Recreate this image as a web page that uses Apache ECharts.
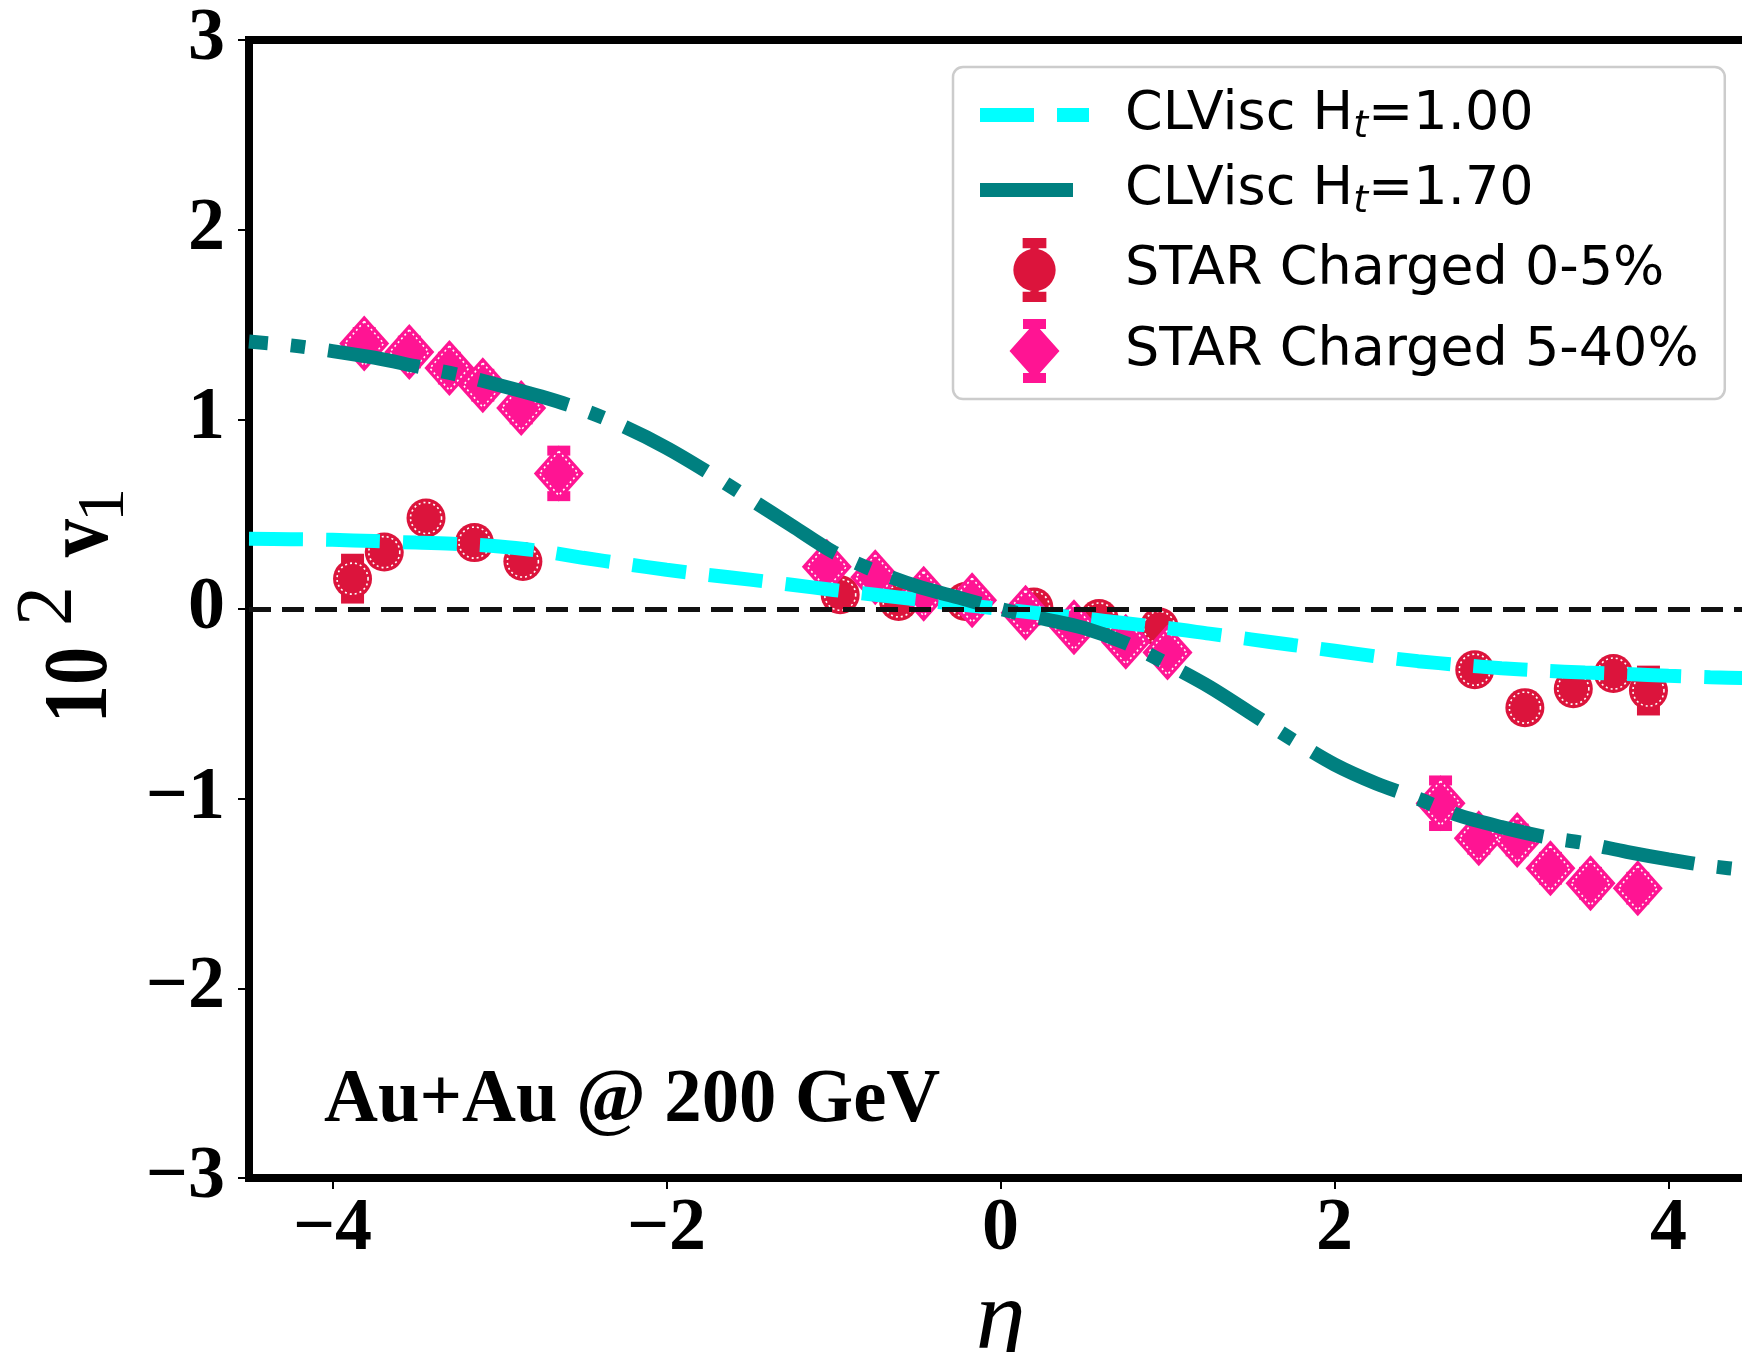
<!DOCTYPE html>
<html>
<head>
<meta charset="utf-8">
<title>v1 vs eta, Au+Au 200 GeV</title>
<script src="https://cdn.jsdelivr.net/npm/echarts@6/dist/echarts.min.js"></script>
<style>
  html, body { margin: 0; padding: 0; background: #fff; }
  #chart { width: 1742px; height: 1352px; }
</style>
</head>
<body>
<div id="chart"></div>
<script>
// Model curves: CLVisc hydro, directed flow 10^2 v1 versus pseudorapidity
const etaModel = [-4.5, -4.25, -4, -3.75, -3.5, -3.25, -3, -2.75, -2.5, -2.25, -2, -1.75, -1.5, -1.25, -1, -0.75, -0.5, -0.25,
  0, 0.25, 0.5, 0.75, 1, 1.25, 1.5, 1.75, 2, 2.25, 2.5, 2.75, 3, 3.25, 3.5, 3.75, 4, 4.25, 4.5];
const v1Ht100 = [0.37, 0.368, 0.365, 0.358, 0.35, 0.343, 0.33, 0.305, 0.27, 0.238, 0.207, 0.18, 0.155, 0.128, 0.10, 0.075, 0.05, 0.025,
  0, -0.025, -0.05, -0.075, -0.10, -0.13, -0.16, -0.19, -0.22, -0.25, -0.275, -0.295, -0.312, -0.325, -0.335, -0.343, -0.352, -0.36, -0.365];
const v1Ht170 = [1.41, 1.39, 1.36, 1.325, 1.28, 1.235, 1.18, 1.12, 1.05, 0.96, 0.85, 0.72, 0.58, 0.44, 0.30, 0.20, 0.12, 0.06,
  0, -0.05, -0.10, -0.18, -0.29, -0.41, -0.55, -0.69, -0.82, -0.92, -1.00, -1.09, -1.15, -1.20, -1.235, -1.28, -1.32, -1.355, -1.38];

// STAR charged hadrons, 0-5% centrality
const star05Eta = [-3.88, -3.69, -3.44, -3.15, -2.86, -0.96, -0.61, -0.21, 0.20, 0.59, 0.95, 2.84, 3.14, 3.43, 3.67, 3.88];
const star05V   = [0.16, 0.30, 0.48, 0.35, 0.25, 0.075, 0.04, 0.04, 0.01, -0.05, -0.095, -0.32, -0.52, -0.42, -0.34, -0.43];
const star05Err = [0.105, 0.04, 0.04, 0.04, 0.04, 0.02, 0.02, 0.02, 0.02, 0.02, 0.02, 0.04, 0.04, 0.04, 0.04, 0.105];

// STAR charged hadrons, 5-40% centrality
const star540Eta = [-3.81, -3.54, -3.30, -3.10, -2.87, -2.645, -1.04, -0.75, -0.46, -0.17, 0.15, 0.44, 0.75, 1.00, 2.635, 2.864, 3.094, 3.293, 3.533, 3.816];
const star540V   = [1.40, 1.355, 1.27, 1.18, 1.06, 0.715, 0.223, 0.168, 0.08, 0.046, -0.02, -0.096, -0.173, -0.23, -1.024, -1.209, -1.218, -1.367, -1.446, -1.472];
const star540Err = [0.06, 0.06, 0.06, 0.06, 0.06, 0.12, 0.03, 0.03, 0.03, 0.03, 0.03, 0.03, 0.03, 0.03, 0.12, 0.06, 0.06, 0.06, 0.06, 0.06];

// Axis ticks
const xTicks = [-4, -2, 0, 2, 4];
const yTicks = [-3, -2, -1, 0, 1, 2, 3];

const names = ['CLVisc H_t=1.00', 'CLVisc H_t=1.70', 'STAR Charged 0-5%', 'STAR Charged 5-40%'];
const colors = { cyan: '#00FFFF', teal: '#008080', crimson: '#DC143C', pink: '#FF1493' };

const SERIF = '"Liberation Serif", "Times New Roman", serif';
const SANS = '"DejaVu Sans", sans-serif';
const fmtMinus = v => (v < 0 ? '\u2212' + Math.abs(v) : String(v));
const zip = (xs, ys) => xs.map((x, i) => [x, ys[i]]);

// legend handles: marker with a vertical error bar and caps
const circleBarIcon = 'path://M9 0H32V10H9Z M9 52H32V62H9Z M16.5 10H24.5V52H16.5Z ' +
  'M41 31A20.5 20.5 0 1 1 0 31A20.5 20.5 0 1 1 41 31Z';
const diamondBarIcon = 'path://M13.5 0H36.5V10H13.5Z M13.5 54H36.5V64H13.5Z M21 10H29V54H21Z ' +
  'M25 4L50 32L25 60L0 32Z';

function errorBars(eta, v, err, color) {
  return {
    type: 'custom',
    silent: true,
    data: eta.map((x, i) => [x, v[i], err[i]]),
    encode: { x: 0, y: 1 },
    renderItem(params, api) {
      const x = api.value(0), y = api.value(1), e = api.value(2);
      const hi = api.coord([x, y + e]);
      const lo = api.coord([x, y - e]);
      const w = 11.5;
      return {
        type: 'group',
        children: [
          { type: 'line', shape: { x1: hi[0], y1: hi[1], x2: lo[0], y2: lo[1] }, style: { stroke: color, lineWidth: 8 } },
          { type: 'line', shape: { x1: hi[0] - w, y1: hi[1], x2: hi[0] + w, y2: hi[1] }, style: { stroke: color, lineWidth: 10 } },
          { type: 'line', shape: { x1: lo[0] - w, y1: lo[1], x2: lo[0] + w, y2: lo[1] }, style: { stroke: color, lineWidth: 10 } }
        ]
      };
    }
  };
}

function ring(eta, v, symbol, size) {
  return {
    type: 'scatter',
    silent: true,
    symbol: symbol,
    symbolSize: size,
    data: zip(eta, v),
    itemStyle: { color: 'rgba(0,0,0,0)', opacity: 1, borderColor: '#ffffff', borderWidth: 1.6, borderType: [2, 3] }
  };
}

const chart = echarts.init(document.getElementById('chart'), null, { renderer: 'canvas' });

const option = {
  animation: false,
  backgroundColor: '#ffffff',
  grid: {
    left: 249, right: -10, top: 40, bottom: 174,
    show: true, borderColor: '#000', borderWidth: 8,
    outerBoundsMode: 'none'
  },
  xAxis: {
    type: 'value', min: -4.5, max: 4.5,
    axisLine: { show: false, onZero: false },
    splitLine: { show: false },
    axisTick: { show: true, customValues: xTicks, length: 11, lineStyle: { color: '#000', width: 2 } },
    axisLabel: {
      customValues: xTicks, formatter: fmtMinus, margin: 15,
      fontFamily: SERIF, fontWeight: 'bold', fontSize: 74, color: '#000'
    },
    name: '\u03B7', nameLocation: 'middle', nameGap: 62,
    nameTextStyle: { fontFamily: SERIF, fontStyle: 'italic', fontSize: 100, color: '#000', verticalAlign: 'top' }
  },
  yAxis: {
    type: 'value', min: -3, max: 3, interval: 1,
    axisLine: { show: false, onZero: false },
    splitLine: { show: false },
    axisTick: { show: true, length: 11, lineStyle: { color: '#000', width: 2 } },
    axisLabel: {
      formatter: fmtMinus, margin: 24,
      fontFamily: SERIF, fontWeight: 'bold', fontSize: 74, color: '#000'
    }
  },
  legend: {
    orient: 'vertical',
    left: 953, top: 67,
    padding: [21, 26, 16, 20],
    itemWidth: 109, itemHeight: 64, itemGap: 17,
    backgroundColor: '#ffffff',
    borderColor: '#cccccc', borderWidth: 2.5, borderRadius: 10,
    lineStyle: { width: 14 },
    data: [
      { name: names[0], itemStyle: { opacity: 0 } },
      { name: names[1], itemStyle: { opacity: 0 }, lineStyle: { dashOffset: 0 } },
      { name: names[2], icon: circleBarIcon },
      { name: names[3], icon: diamondBarIcon }
    ],
    formatter(name) {
      return '{sp| }' + name.replace('H_t', 'H{t|t}');
    },
    textStyle: {
      fontFamily: SANS, fontSize: 54, color: '#000',
      rich: {
        sp: { width: 31, fontSize: 10 },
        t: { fontFamily: SANS, fontSize: 38, fontStyle: 'italic', color: '#000', padding: [24, 0, 0, 0] }
      }
    }
  },
  series: [
    {
      name: names[0], type: 'line', data: zip(etaModel, v1Ht100),
      symbol: 'none', smooth: 0.3, color: colors.cyan,
      lineStyle: { color: colors.cyan, width: 14, type: [54, 23], cap: 'butt' },
      markLine: {
        silent: true, symbol: 'none', label: { show: false },
        lineStyle: { color: '#111', width: 5, type: [22, 11] },
        data: [{ yAxis: 0 }]
      }
    },
    {
      name: names[1], type: 'line', data: zip(etaModel, v1Ht170),
      symbol: 'none', smooth: 0.3, color: colors.teal,
      lineStyle: { color: colors.teal, width: 14, type: [93, 23, 14.5, 23], dashOffset: 74, cap: 'butt' }
    },
    errorBars(star05Eta, star05V, star05Err, colors.crimson),
    {
      name: names[2], type: 'scatter', symbol: 'circle', symbolSize: 39,
      data: zip(star05Eta, star05V), color: colors.crimson,
      itemStyle: { color: colors.crimson, opacity: 1 }
    },
    ring(star05Eta, star05V, 'circle', 31),
    errorBars(star540Eta, star540V, star540Err, colors.pink),
    {
      name: names[3], type: 'scatter', symbol: 'diamond', symbolSize: [50, 56],
      data: zip(star540Eta, star540V), color: colors.pink,
      itemStyle: { color: colors.pink, opacity: 1 }
    },
    ring(star540Eta, star540V, 'diamond', [39, 44])
  ],
  graphic: [
    // y-axis title: 10^2 v_1, reading bottom to top
    { type: 'text', x: 83, y: 685, rotation: Math.PI / 2, scaleX: 0.85,
      style: { text: '10', font: 'bold 90px ' + SERIF, fill: '#000', align: 'center', verticalAlign: 'middle' } },
    { type: 'text', x: 50, y: 606, rotation: Math.PI / 2,
      style: { text: '2', font: '80px ' + SERIF, fill: '#000', align: 'center', verticalAlign: 'middle' } },
    { type: 'text', x: 84, y: 538, rotation: Math.PI / 2, scaleX: 0.85,
      style: { text: 'v', font: 'bold 90px ' + SERIF, fill: '#000', align: 'center', verticalAlign: 'middle' } },
    { type: 'text', x: 105, y: 505, rotation: Math.PI / 2,
      style: { text: '1', font: '68px ' + SERIF, fill: '#000', align: 'center', verticalAlign: 'middle' } },
    // collision system annotation
    { type: 'text', x: 324, y: 1101, scaleX: 0.97,
      style: { text: 'Au+Au @ 200 GeV', font: 'bold 77px ' + SERIF, fill: '#000', align: 'left', verticalAlign: 'middle' } }
  ]
};

chart.setOption(option);
</script>
</body>
</html>
